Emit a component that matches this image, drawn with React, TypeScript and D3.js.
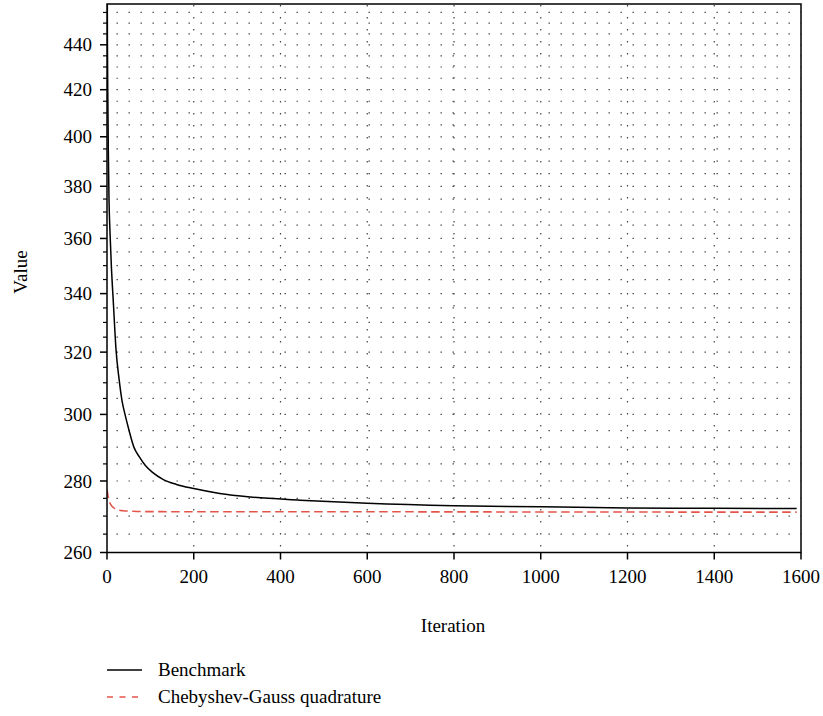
import React from 'react';
import * as d3 from 'd3';

// values
const benchIter = [0, 1, 2, 3, 4.6, 7, 10, 14.6, 20.7, 28, 35, 41.5, 50, 62, 75, 88, 105, 130, 160, 200, 260, 330, 445, 600, 800, 1000, 1200, 1400, 1590];
const benchValue = [520, 440, 415, 395, 375, 362, 350, 337, 321, 311, 304, 300, 295.5, 290, 287, 284.6, 282.5, 280.4, 279, 277.8, 276.4, 275.4, 274.5, 273.6, 272.9, 272.6, 272.3, 272.2, 272.1];
const chebIter = [0, 2, 4, 7, 12, 18, 26, 37, 60, 100, 300, 600, 1000, 1590];
const chebValue = [277.5, 276, 274.6, 273.6, 272.7, 272.1, 271.7, 271.5, 271.35, 271.25, 271.2, 271.2, 271.15, 271.1];
const xTicks = [0, 200, 400, 600, 800, 1000, 1200, 1400, 1600];
const yTicks = [260, 280, 300, 320, 340, 360, 380, 400, 420, 440];
const legendLabels = ['Benchmark', 'Chebyshev-Gauss quadrature'];

const W = 823;
const H = 716;
const left = 107;
const right = 801;
const top = 4;
const bottom = 552.5;
const font = "'Liberation Serif', 'DejaVu Serif', 'Times New Roman', serif";
const red = '#e5544b';

const App = () => {
  const x = d3.scaleLinear().domain([0, 1600]).range([left, right]);
  const y = d3.scaleLog().domain([260, 459]).range([bottom, top]);

  const minorY = d3.range(265, 460, 5).filter(v => v % 20 !== 0);
  const gridY = d3.range(265, 460, 5);
  const gridX = xTicks.slice(1, -1);

  const line = d3.line<[number, number]>()
    .x(d => x(d[0]))
    .y(d => y(d[1]))
    .curve(d3.curveMonotoneX);

  const benchPath = line(benchIter.map((t, i) => [t, benchValue[i]]) as [number, number][]) || '';
  const chebPath = line(chebIter.map((t, i) => [t, chebValue[i]]) as [number, number][]) || '';

  return (
    <svg width={W} height={H} style={{ position: 'absolute', left: 0, top: 0, fontFamily: font }}>
      <defs>
        <clipPath id="plot">
          <rect x={left} y={top} width={right - left} height={bottom - top} />
        </clipPath>
      </defs>
      <rect width={W} height={H} fill="#fff" />

      {/* dotted grid */}
      {gridY.map(v => (
        <line key={'gy' + v} x1={left} x2={right} y1={y(v)} y2={y(v)}
          stroke="#444" strokeWidth={1.2} strokeDasharray="1.4,10.6" strokeDashoffset={-9.5} />
      ))}
      {gridX.map(v => (
        <line key={'gx' + v} x1={x(v)} x2={x(v)} y1={bottom} y2={top}
          stroke="#444" strokeWidth={1.2} strokeDasharray="1.4,10.6" strokeDashoffset={-6} />
      ))}

      {/* curves */}
      <g clipPath="url(#plot)">
        <path d={benchPath} fill="none" stroke="#000" strokeWidth={1.5} />
        <path d={chebPath} fill="none" stroke={red} strokeWidth={1.6} strokeDasharray="8.5,4.5" />
      </g>

      {/* frame */}
      <rect x={left} y={top} width={right - left} height={bottom - top} fill="none" stroke="#000" strokeWidth={1.5} />

      {/* y axis */}
      {yTicks.map(v => (
        <g key={'yt' + v}>
          <line x1={left - 7} x2={left} y1={y(v)} y2={y(v)} stroke="#000" strokeWidth={1.5} />
          <text x={92} y={y(v)} dy="0.35em" textAnchor="end" fontSize={19}>{v}</text>
        </g>
      ))}
      {minorY.map(v => (
        <line key={'ym' + v} x1={left - 4} x2={left} y1={y(v)} y2={y(v)} stroke="#000" strokeWidth={1.2} />
      ))}

      {/* x axis */}
      {xTicks.map(v => (
        <g key={'xt' + v}>
          <line x1={x(v)} x2={x(v)} y1={bottom} y2={bottom + 7} stroke="#000" strokeWidth={1.5} />
          <text x={x(v)} y={583} textAnchor="middle" fontSize={19}>{v}</text>
        </g>
      ))}

      <text x={453} y={632} textAnchor="middle" fontSize={19}>Iteration</text>
      <text transform="translate(27,272) rotate(-90)" textAnchor="middle" fontSize={19}>Value</text>

      {/* legend */}
      <line x1={107} x2={142} y1={670} y2={670} stroke="#000" strokeWidth={1.3} />
      <text x={158} y={676} fontSize={19}>{legendLabels[0]}</text>
      <line x1={107} x2={142} y1={697} y2={697} stroke={red} strokeWidth={1.5} strokeDasharray="6,6.5" />
      <text x={158} y={703} fontSize={19}>{legendLabels[1]}</text>
    </svg>
  );
};

export default App;
